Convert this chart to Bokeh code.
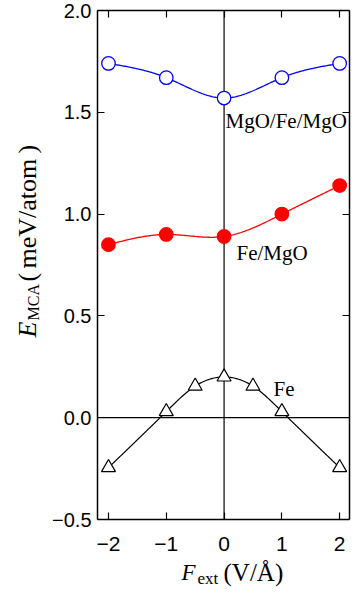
import numpy as np
from bokeh.plotting import figure
from bokeh.models import LinearAxis, FixedTicker, CustomJSTickFormatter, Label, Range1d
from bokeh.embed import file_html
from bokeh.resources import INLINE

# ---- data ----
x_main = [-2, -1, 0, 1, 2]
mgo_fe_mgo = [1.74, 1.67, 1.57, 1.67, 1.74]
fe_mgo = [0.85, 0.90, 0.89, 1.00, 1.14]
x_fe = [-2, -1, -0.5, 0, 0.5, 1, 2]
fe = [-0.245, 0.03, 0.155, 0.20, 0.155, 0.03, -0.245]
x_ticks = [-2, -1, 0, 1, 2]
y_ticks = [-0.5, 0.0, 0.5, 1.0, 1.5, 2.0]
series_names = ["MgO/Fe/MgO", "Fe/MgO", "Fe"]


def smooth(xs, ys, n=200):
    """Natural cubic spline through the data points (for the connecting curve)."""
    xs = np.asarray(xs, float)
    ys = np.asarray(ys, float)
    m = len(xs)
    h = np.diff(xs)
    A = np.zeros((m, m))
    r = np.zeros(m)
    A[0, 0] = A[-1, -1] = 1
    for i in range(1, m - 1):
        A[i, i - 1] = h[i - 1]
        A[i, i] = 2 * (h[i - 1] + h[i])
        A[i, i + 1] = h[i]
        r[i] = 3 * ((ys[i + 1] - ys[i]) / h[i] - (ys[i] - ys[i - 1]) / h[i - 1])
    c = np.linalg.solve(A, r)
    b = (ys[1:] - ys[:-1]) / h - h * (2 * c[:-1] + c[1:]) / 3
    d = (c[1:] - c[:-1]) / (3 * h)
    xx = np.linspace(xs[0], xs[-1], n)
    idx = np.clip(np.searchsorted(xs, xx) - 1, 0, m - 2)
    t = xx - xs[idx]
    yy = ys[idx] + b[idx] * t + c[idx] * t ** 2 + d[idx] * t ** 3
    return xx, yy


W, H = 353, 592
# plotting box (axes rectangle) in data units and its position on the page
BX = (-2.19, 2.17)
BY = (-0.5, 2.0)
FL, FR, FT, FB = 97, 349, 10, 519
KX = (BX[1] - BX[0]) / (FR - FL)
KY = (BY[1] - BY[0]) / (FB - FT)


def px(xp):
    return BX[0] + (xp - FL) * KX


def py(yp):
    return BY[1] - (yp - FT) * KY


# the frame covers the whole canvas so that titles outside the box are not clipped
p = figure(width=W, height=H, x_range=Range1d(px(0), px(W)), y_range=Range1d(py(H), py(0)),
           output_backend="svg", toolbar_location=None, x_axis_location=None, y_axis_location=None,
           min_border_left=0, min_border_right=0, min_border_top=0, min_border_bottom=0)
p.xgrid.visible = False
p.ygrid.visible = False
p.outline_line_color = None
p.background_fill_color = "white"
p.border_fill_color = "white"

fmt_y = CustomJSTickFormatter(code="return (tick < 0 ? '\u2212' : '') + Math.abs(tick).toFixed(1);")
fmt_x = CustomJSTickFormatter(code="return (tick < 0 ? '\u2212' : '') + Math.abs(tick).toFixed(0);")
blank = CustomJSTickFormatter(code="return '';")

axes_spec = [
    ("left", y_ticks, fmt_y, 6, BX[0], BY, "20px"),
    ("below", x_ticks, fmt_x, 17, BY[0], BX, "21px"),
    ("right", y_ticks, blank, 0, BX[1], BY, "20px"),
    ("above", x_ticks, blank, 0, BY[1], BX, "20px"),
]
for loc, ticks, fmt, stand, fixed, bnds, fsize in axes_spec:
    ax = LinearAxis(ticker=FixedTicker(ticks=ticks), formatter=fmt,
                    fixed_location=fixed, bounds=bnds,
                    major_tick_in=7, major_tick_out=0, major_label_standoff=stand,
                    major_tick_line_width=1.2, major_tick_line_color="black",
                    minor_tick_line_color=None,
                    axis_line_width=1.5, axis_line_color="black",
                    major_label_text_font="Liberation Sans",
                    major_label_text_font_size=fsize,
                    major_label_text_color="black")
    p.add_layout(ax, loc)

# zero lines across the box
p.segment(x0=[BX[0]], y0=[0], x1=[BX[1]], y1=[0], line_color="black", line_width=1.2)
p.segment(x0=[0], y0=[BY[0]], x1=[0], y1=[BY[1]], line_color="black", line_width=1.2)

# MgO/Fe/MgO
xx, yy = smooth(x_main, mgo_fe_mgo)
p.line(xx, yy, line_color="#0000ff", line_width=1.3)
p.scatter(x_main, mgo_fe_mgo, marker="circle", size=13.5, fill_color="white",
          line_color="#0000ff", line_width=1.3)

# Fe/MgO
xx, yy = smooth(x_main, fe_mgo)
p.line(xx, yy, line_color="#ff0000", line_width=1.3)
p.scatter(x_main, fe_mgo, marker="circle", size=13.5, fill_color="#ff0000",
          line_color="#ff0000", line_width=1.3)

# Fe
xx, yy = smooth(x_fe, fe)
p.line(xx, yy, line_color="black", line_width=1.2)
p.scatter(x_fe, fe, marker="triangle", size=14, fill_color="white",
          line_color="black", line_width=1.2)

serif = "Liberation Serif"

# series labels
for name, (xp, yp) in zip(series_names, [(225, 120), (236, 252), (273, 388)]):
    p.add_layout(Label(x=px(xp), y=py(yp), text=name, text_font=serif,
                       text_font_size="21px", text_color="black",
                       text_align="left", text_baseline="alphabetic"))

# y axis title (rotated)
ang = np.pi / 2
for txt, xp, yp, size, style in [("E", 27, 337, "26px", "italic"),
                                  ("MCA", 33, 320, "16px", "normal"),
                                  ("(", 27, 281, "26px", "normal"),
                                  ("meV/atom", 27, 268, "26px", "normal"),
                                  (")", 27, 153, "26px", "normal")]:
    p.add_layout(Label(x=px(xp), y=py(yp), text=txt, text_font=serif, angle=ang,
                       text_font_size=size, text_font_style=style, text_color="black",
                       text_align="left", text_baseline="alphabetic"))

# x axis title
for txt, xp, yp, size, style in [("F", 181, 572, "23px", "italic"),
                                  ("ext", 197, 578, "17px", "normal"),
                                  ("(V/Å)", 223, 572, "25px", "normal")]:
    p.add_layout(Label(x=px(xp), y=py(yp), text=txt, text_font=serif,
                       text_font_size=size, text_font_style=style, text_color="black",
                       text_align="left", text_baseline="alphabetic"))

open("out.html", "w").write(file_html(p, INLINE))
